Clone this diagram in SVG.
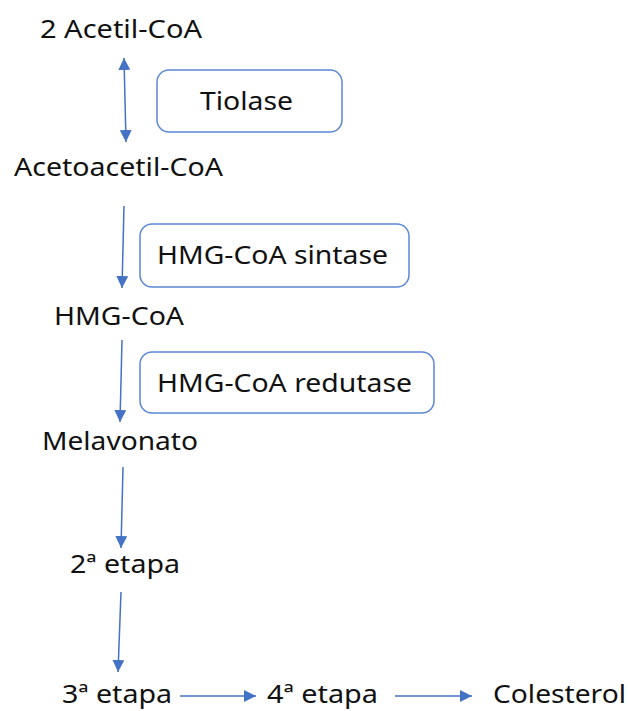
<svg xmlns="http://www.w3.org/2000/svg" width="628" height="711" viewBox="0 0 628 711">
<style>
.t{font-family:"Noto Sans","Open Sans","Liberation Sans",sans-serif;font-size:25px;fill:#111}
.box{fill:#fff;stroke:#5b87d3;stroke-width:1.5}
.c{stroke:#4472c4;stroke-width:1.5;fill:none}
</style>
<defs>
<marker id="ah" markerUnits="userSpaceOnUse" markerWidth="12" markerHeight="12" refX="10" refY="5" orient="auto-start-reverse" viewBox="0 0 10 10">
<path d="M0,0 L10,5 L0,10 Z" fill="#4472c4"/>
</marker>
</defs>
<rect width="628" height="711" fill="#fff"/>
<g id="connectors">
<line class="c" x1="124" y1="58" x2="126" y2="142" marker-start="url(#ah)" marker-end="url(#ah)"/>
<line class="c" x1="124" y1="206" x2="122" y2="288" marker-end="url(#ah)"/>
<line class="c" x1="122" y1="340" x2="120" y2="422" marker-end="url(#ah)"/>
<line class="c" x1="123" y1="467" x2="121" y2="548" marker-end="url(#ah)"/>
<line class="c" x1="121" y1="592" x2="118" y2="672" marker-end="url(#ah)"/>
<line class="c" x1="180" y1="696" x2="256" y2="696" marker-end="url(#ah)"/>
<line class="c" x1="395" y1="696" x2="472" y2="696" marker-end="url(#ah)"/>
</g>
<g id="acetilcoa"><text class="t" x="40" y="38" textLength="162" lengthAdjust="spacingAndGlyphs">2 Acetil-CoA</text></g>
<g id="tiolase"><rect class="box" x="157" y="70" width="185" height="62" rx="12"/><text class="t" x="200" y="110" textLength="93" lengthAdjust="spacingAndGlyphs">Tiolase</text></g>
<g id="acetoacetilcoa"><text class="t" x="14" y="176" textLength="209" lengthAdjust="spacingAndGlyphs">Acetoacetil-CoA</text></g>
<g id="sintase"><rect class="box" x="140" y="224" width="269" height="63" rx="12"/><text class="t" x="157" y="264" textLength="231" lengthAdjust="spacingAndGlyphs">HMG-CoA sintase</text></g>
<g id="hmgcoa"><text class="t" x="54" y="325" textLength="130" lengthAdjust="spacingAndGlyphs">HMG-CoA</text></g>
<g id="redutase"><rect class="box" x="140" y="352" width="294" height="61" rx="12"/><text class="t" x="157" y="392" textLength="255" lengthAdjust="spacingAndGlyphs">HMG-CoA redutase</text></g>
<g id="melavonato"><text class="t" x="42" y="450" textLength="156" lengthAdjust="spacingAndGlyphs">Melavonato</text></g>
<g id="etapa2"><text class="t" x="70" y="573" textLength="110" lengthAdjust="spacingAndGlyphs">2ª etapa</text></g>
<g id="etapa3"><text class="t" x="62" y="703" textLength="110" lengthAdjust="spacingAndGlyphs">3ª etapa</text></g>
<g id="etapa4"><text class="t" x="267" y="703" textLength="111" lengthAdjust="spacingAndGlyphs">4ª etapa</text></g>
<g id="colesterol"><text class="t" x="493" y="703" textLength="133" lengthAdjust="spacingAndGlyphs">Colesterol</text></g>
</svg>
